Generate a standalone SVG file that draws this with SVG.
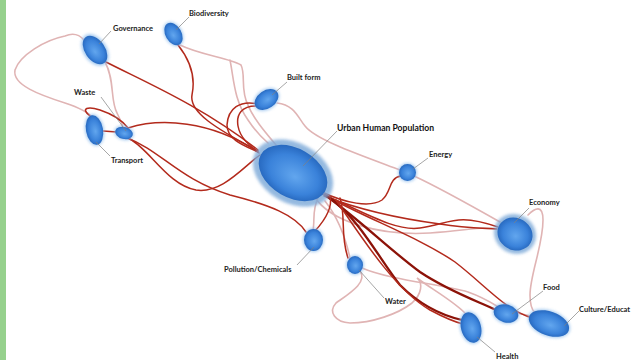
<svg xmlns="http://www.w3.org/2000/svg" width="632" height="360" viewBox="0 0 632 360">
<defs>
<radialGradient id="nodeFill" cx="0.5" cy="0.5" r="0.55" fx="0.55" fy="0.55">
<stop offset="0" stop-color="#62a6ee"/>
<stop offset="0.65" stop-color="#3a82da"/>
<stop offset="1" stop-color="#2262b8"/>
</radialGradient>
<filter id="soft" x="-30%" y="-30%" width="160%" height="160%">
<feGaussianBlur stdDeviation="1.4"/>
</filter>
<style>
.pk{fill:none;stroke:#e0b4b4;stroke-width:1.6;stroke-linecap:round}
.r{fill:none;stroke:#b32a1c;stroke-width:1.5;stroke-linecap:round}
.rd{fill:none;stroke:#8c1208;stroke-width:2.3;stroke-linecap:round}
.halo{fill:#8fbdec;opacity:0.8;filter:url(#soft)}
.bighalo{fill:#7aa8d8;opacity:0.8;filter:url(#soft)}
.node{fill:url(#nodeFill)}
.lead{stroke:#808080;stroke-width:0.7;fill:none}
.lbl{font-family:Lato,"Liberation Sans",sans-serif;font-weight:bold;font-size:7.5px;fill:#222222}
.big{font-size:8.6px;fill:#111111}
</style>
</defs>
<rect width="632" height="360" fill="#ffffff"/>
<rect x="0" y="0" width="6" height="360" fill="#96d18d"/>

<g id="connectors">
<g>
<path class="pk" d="M84,40 C78,33 72,33 65,36 C45,40 20,55 15,70 C12,85 40,95 65,103 C80,108 88,112 92,117"/>
<path class="pk" d="M105,62 C115,80 110,100 117,113 C121,121 123,125 123,128"/>
<path class="pk" d="M180,45 C200,55 230,58 241,65 C246,75 240,90 248,105 C253,118 265,132 276,145"/>
<path class="pk" d="M230,60 C234,80 234,100 248,120 C256,132 262,138 268,143"/>
<path class="pk" d="M277,103 C295,105 298,118 305,126 C316,140 360,155 400,170"/>
<path class="pk" d="M414,176 C440,188 470,205 500,222"/>
<path class="pk" d="M528,215 C535,208 543,204 543,220 C543,245 530,275 530,295 C530,305 532,310 535,313"/>
<path class="pk" d="M314,196 C330,222 380,236 430,233 C470,230 485,226 497,229"/>
<path class="pk" d="M350,258 C346,240 340,220 325,201"/>
<path class="pk" d="M360,271 C368,282 350,293 336,303 C328,312 335,322 350,323 C372,323 398,314 412,303 C422,294 423,283 417,278 C430,288 452,300 465,313"/>
<path class="pk" d="M362,268 C390,280 440,284 468,292 C485,298 495,305 500,308"/>
<path class="pk" d="M318,198 C312,210 315,220 313,230"/>
<path class="pk" d="M517,313 L531,316"/>
</g>
<g>
<path class="r" d="M106,62 C145,82 200,105 258,150"/>
<path class="r" d="M178,45 C190,60 196,76 192,95 C189,112 215,128 258,151"/>
<path class="r" d="M258,104 C240,100 228,108 227,125 C227,140 245,146 258,152"/>
<path class="r" d="M256,106 C242,106 236,114 238,126 C240,138 250,146 259,153"/>
<path class="r" d="M128,128 C160,118 210,120 258,152"/>
<path class="r" d="M103,131 L117,132"/>
<path class="r" d="M90,116 C80,108 88,106 100,110 C112,114 122,120 128,128"/>
<path class="r" d="M130,139 C150,150 168,185 196,190 C222,194 244,166 260,155"/>
<path class="r" d="M127,138 C160,150 180,180 230,195 C270,205 295,215 306,232"/>
<path class="r" d="M322,192 C345,203 370,208 382,200 C392,192 388,178 401,176"/>
<path class="r" d="M322,194 C360,210 395,232 420,228 C450,224 455,212 498,227"/>
<path class="r" d="M324,196 C365,212 410,220 440,224 C465,228 480,228 497,229"/>
<path class="r" d="M326,196 C370,220 420,238 455,262 C485,285 505,310 532,318"/>
<path class="rd" d="M325,195 C360,220 390,250 420,272 C450,292 480,302 496,310"/>
<path class="rd" d="M330,198 C360,220 380,260 400,285 C420,305 440,315 462,320"/>
<path class="r" d="M336,200 C360,235 395,290 430,310 C445,318 455,322 463,324"/>
<path class="r" d="M340,198 C346,215 340,235 348,258"/>
<path class="r" d="M330,196 C333,208 325,220 315,231"/>
</g>
</g>

<g id="n-governance">
<ellipse class="halo" cx="95" cy="50" rx="17.5" ry="11.5" transform="rotate(55 95 50)"/>
<ellipse class="node" cx="95" cy="50" rx="16" ry="10" transform="rotate(55 95 50)"/>
<line class="lead" x1="99" y1="44" x2="111" y2="31"/>
<text class="lbl" x="113" y="31">Governance</text>
</g>
<g id="n-biodiversity">
<ellipse class="halo" cx="173.5" cy="34" rx="13" ry="9" transform="rotate(60 173.5 34)"/>
<ellipse class="node" cx="173.5" cy="34" rx="12" ry="8" transform="rotate(60 173.5 34)"/>
<line class="lead" x1="176" y1="30" x2="189" y2="17"/>
<text class="lbl" x="189" y="16">Biodiversity</text>
</g>
<g id="n-builtform">
<ellipse class="halo" cx="266.5" cy="99.5" rx="14" ry="10" transform="rotate(-35 266.5 99.5)"/>
<ellipse class="node" cx="266.5" cy="99.5" rx="13" ry="9" transform="rotate(-35 266.5 99.5)"/>
<line class="lead" x1="272" y1="95" x2="287" y2="82"/>
<text class="lbl" x="287" y="80">Built form</text>
</g>
<g id="n-waste">
<ellipse class="halo" cx="124" cy="133" rx="10" ry="7" transform="rotate(15 124 133)"/>
<ellipse class="node" cx="124" cy="133" rx="9" ry="6" transform="rotate(15 124 133)"/>
<line class="lead" x1="101" y1="97" x2="126" y2="131"/>
<text class="lbl" x="74" y="95">Waste</text>
</g>
<g id="n-transport">
<ellipse class="halo" cx="94.5" cy="130" rx="9.5" ry="16" transform="rotate(-10 94.5 130)"/>
<ellipse class="node" cx="94.5" cy="130" rx="8.5" ry="15" transform="rotate(-10 94.5 130)"/>
<line class="lead" x1="96" y1="142" x2="110" y2="156"/>
<text class="lbl" x="111" y="163">Transport</text>
</g>
<g id="n-urban">
<ellipse class="bighalo" cx="293" cy="173" rx="43" ry="30" transform="rotate(30 293 173)"/>
<ellipse class="node" cx="293" cy="173" rx="37" ry="24.5" transform="rotate(30 293 173)"/>
<line class="lead" x1="303" y1="166" x2="337" y2="131"/>
<text class="lbl big" x="337" y="131">Urban Human Population</text>
</g>
<g id="n-energy">
<circle class="halo" cx="407.5" cy="172.5" r="9.5"/>
<circle class="node" cx="407.5" cy="172.5" r="8.5"/>
<line class="lead" x1="413" y1="169" x2="428" y2="158"/>
<text class="lbl" x="429" y="157">Energy</text>
</g>
<g id="n-economy">
<ellipse class="bighalo" cx="515" cy="234" rx="21.5" ry="19.5" transform="rotate(30 515 234)"/>
<ellipse class="node" cx="515" cy="234" rx="18" ry="16" transform="rotate(30 515 234)"/>
<line class="lead" x1="514" y1="223" x2="529" y2="208"/>
<text class="lbl" x="529" y="205">Economy</text>
</g>
<g id="n-pollution">
<ellipse class="halo" cx="313.5" cy="240" rx="10.5" ry="12"/>
<ellipse class="node" cx="313.5" cy="240" rx="9.5" ry="11"/>
<line class="lead" x1="314" y1="247" x2="297" y2="265"/>
<text class="lbl" x="224" y="272">Pollution/Chemicals</text>
</g>
<g id="n-water">
<ellipse class="halo" cx="355" cy="265" rx="9" ry="10"/>
<ellipse class="node" cx="355" cy="265" rx="8" ry="9"/>
<line class="lead" x1="359" y1="270" x2="384" y2="298"/>
<text class="lbl" x="385" y="304">Water</text>
</g>
<g id="n-health">
<ellipse class="halo" cx="471" cy="327.5" rx="11" ry="16.5" transform="rotate(-15 471 327.5)"/>
<ellipse class="node" cx="471" cy="327.5" rx="10" ry="15.5" transform="rotate(-15 471 327.5)"/>
<line class="lead" x1="477" y1="337" x2="495" y2="352"/>
<text class="lbl" x="496" y="359">Health</text>
</g>
<g id="n-food">
<ellipse class="halo" cx="506" cy="313.5" rx="13.5" ry="10" transform="rotate(15 506 313.5)"/>
<ellipse class="node" cx="506" cy="313.5" rx="12.5" ry="9" transform="rotate(15 506 313.5)"/>
<line class="lead" x1="512" y1="314" x2="543" y2="291"/>
<text class="lbl" x="543" y="290">Food</text>
</g>
<g id="n-culture">
<ellipse class="halo" cx="549" cy="323.5" rx="22" ry="13" transform="rotate(20 549 323.5)"/>
<ellipse class="node" cx="549" cy="323.5" rx="21" ry="12" transform="rotate(20 549 323.5)"/>
<line class="lead" x1="564" y1="326" x2="579" y2="311"/>
<text class="lbl" x="579" y="312">Culture/Educat</text>
</g>
</svg>
